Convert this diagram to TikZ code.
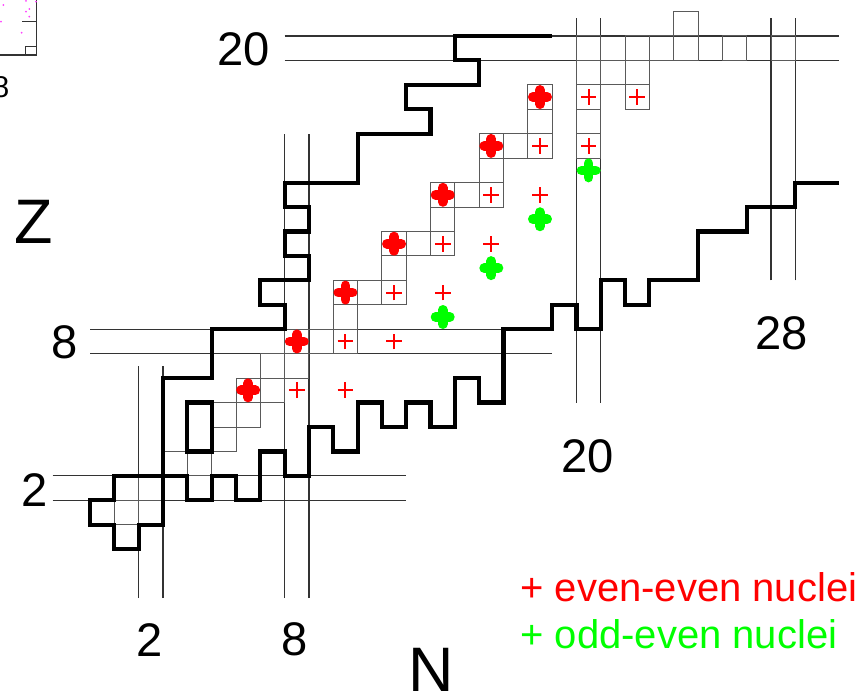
\documentclass[tikz,border=0pt]{standalone}
\usepackage{fontspec}
\setmainfont{Liberation Sans}
\usepackage{tikz}
\definecolor{EvenRed}{HTML}{FF0000}
\definecolor{OddGreen}{HTML}{00FF00}
\definecolor{LineGray}{HTML}{333333}
\definecolor{CellGray}{HTML}{5A5A5A}
\definecolor{DotMagenta}{HTML}{FF40FF}

\begin{document}
\begin{tikzpicture}[x=17.024pt, y=17.108pt,
  every node/.style={inner sep=0pt},
  magic/.style={draw=LineGray, line width=0.85pt},
  stable/.style={draw=CellGray, line width=0.65pt},
  drip/.style={draw=black, line width=2.9pt, line join=miter},
  hole/.style={draw=black, line width=2.9pt},
  ee/.style={minimum size=13pt, path picture={
      \draw[EvenRed, line width=1.4pt]
        ([xshift=-5.5pt]path picture bounding box.center) -- ([xshift=5.5pt]path picture bounding box.center)
        ([yshift=-5.5pt]path picture bounding box.center) -- ([yshift=5.5pt]path picture bounding box.center);}},
  bigplus/.style={minimum size=20pt, path picture={
      \draw[#1, line width=6.8pt, line cap=round]
        ([xshift=-5pt]path picture bounding box.center) -- ([xshift=5pt]path picture bounding box.center)
        ([yshift=-5pt]path picture bounding box.center) -- ([yshift=5pt]path picture bounding box.center);}},
  eemagic/.style={bigplus=EvenRed},
  oe/.style={bigplus=OddGreen},
  num/.style={font=\fontsize{33}{33}\selectfont},
  axis/.style={font=\fontsize{44}{44}\selectfont},
  lgd/.style={anchor=west, font=\fontsize{28}{28}\selectfont}]

  \useasboundingbox (-3.703,-6.007) rectangle (31.659,22.471);

  % ===== corner of the neighbouring panel (cut by the frame) =====
  \draw[LineGray, line width=0.8pt] (-3.8,20.221) -- (-2.194,20.221) -- (-2.194,22.6)
        (-2.786,21.583) -- (-2.194,21.583);
  \draw[LineGray, line width=0.6pt] (-2.646,20.221) rectangle (-2.194,20.561);
  \fill[DotMagenta] (-3.567,22.266) circle (0.7pt) (-2.634,22.430) circle (0.7pt)
        (-2.498,22.103) circle (0.7pt) (-2.634,21.992) circle (0.7pt)
        (-2.498,21.788) circle (0.7pt) (-3.662,21.583) circle (0.7pt)
        (-2.811,21.133) circle (0.7pt) (-2.223,22.401) circle (0.7pt);
  \node[anchor=east, font=\fontsize{21}{21}\selectfont] (frag) at (-3.312,18.891) {8};

  % ===== magic numbers (double lines) =====
  \draw[magic] (-1.54,2) -- (13,2)  (-1.54,3) -- (13,3);
  \draw[magic] (0,8) -- (19,8)      (0,9) -- (19,9);
  \draw[magic] (8,20) -- (30.8,20)  (8,21) -- (30.8,21);
  \draw[magic] (2,-2) -- (2,7.5)    (3,-2) -- (3,7.5);
  \draw[magic] (8,-2) -- (8,17)     (9,-2) -- (9,17);
  \draw[magic] (20,6) -- (20,21.75) (21,6) -- (21,21.75);
  \draw[magic] (28,11) -- (28,21.75) (29,11) -- (29,21.75);

  % ===== stable nuclei (thin cells) =====
  \draw[stable] (0,1) rectangle ++(1,1)  (1,1) rectangle ++(1,1)  (1,2) rectangle ++(1,1)
        (2,2) rectangle ++(1,1)  (3,3) rectangle ++(1,1)  (4,3) rectangle ++(1,1)
        (5,4) rectangle ++(1,1)  (5,5) rectangle ++(1,1)  (6,5) rectangle ++(1,1)
        (6,6) rectangle ++(1,1)  (7,6) rectangle ++(1,1)  (7,7) rectangle ++(1,1)
        (8,7) rectangle ++(1,1)  (8,8) rectangle ++(1,1)  (9,8) rectangle ++(1,1)
        (10,8) rectangle ++(1,1) (10,9) rectangle ++(1,1) (10,10) rectangle ++(1,1)
        (11,10) rectangle ++(1,1) (12,10) rectangle ++(1,1) (12,11) rectangle ++(1,1)
        (12,12) rectangle ++(1,1) (13,12) rectangle ++(1,1) (14,12) rectangle ++(1,1)
        (14,13) rectangle ++(1,1) (14,14) rectangle ++(1,1) (15,14) rectangle ++(1,1)
        (16,14) rectangle ++(1,1) (16,15) rectangle ++(1,1) (16,16) rectangle ++(1,1)
        (17,16) rectangle ++(1,1) (18,16) rectangle ++(1,1) (20,16) rectangle ++(1,1)
        (18,17) rectangle ++(1,1) (20,17) rectangle ++(1,1) (18,18) rectangle ++(1,1)
        (20,18) rectangle ++(1,1) (22,18) rectangle ++(1,1) (20,19) rectangle ++(1,1)
        (21,19) rectangle ++(1,1) (22,19) rectangle ++(1,1) (20,20) rectangle ++(1,1)
        (22,20) rectangle ++(1,1) (23,20) rectangle ++(1,1) (24,20) rectangle ++(1,1)
        (26,20) rectangle ++(1,1) (28,20) rectangle ++(1,1) (24,21) rectangle ++(1,1);

  % ===== limits of bound nuclei (thick) =====
  \draw[drip] (19,21) -- (15,21) -- (15,20) -- (16,20) -- (16,19) -- (13,19) -- (13,18)
        -- (14,18) -- (14,17) -- (11,17) -- (11,15) -- (8,15) -- (8,14) -- (9,14)
        -- (9,13) -- (8,13) -- (8,12) -- (9,12) -- (9,11) -- (7,11) -- (7,10) -- (8,10)
        -- (8,9) -- (5,9) -- (5,7) -- (3,7) -- (3,3) -- (1,3) -- (1,2) -- (0,2) -- (0,1)
        -- (1,1) -- (1,0) -- (2,0) -- (2,1) -- (3,1) -- (3,3) -- (4,3) -- (4,2) -- (5,2)
        -- (5,3) -- (6,3) -- (6,2) -- (7,2) -- (7,4) -- (8,4) -- (8,3) -- (9,3) -- (9,5)
        -- (10,5) -- (10,4) -- (11,4) -- (11,6) -- (12,6) -- (12,5) -- (13,5) -- (13,6)
        -- (14,6) -- (14,5) -- (15,5) -- (15,7) -- (16,7) -- (16,6) -- (17,6) -- (17,9)
        -- (19,9) -- (19,10) -- (20,10) -- (20,9) -- (21,9) -- (21,11) -- (22,11)
        -- (22,10) -- (23,10) -- (23,11) -- (25,11) -- (25,13) -- (27,13) -- (27,14)
        -- (29,14) -- (29,15) -- (30.8,15);
  \draw[hole] (4,4) rectangle (5,6);

  % ===== even-even nuclei, N = Z =====
  \node[eemagic] (c12)  at (6.5,6.5)   {};
  \node[eemagic] (o16)  at (8.5,8.5)   {};
  \node[eemagic] (ne20) at (10.5,10.5) {};
  \node[eemagic] (mg24) at (12.5,12.5) {};
  \node[eemagic] (si28) at (14.5,14.5) {};
  \node[eemagic] (s32)  at (16.5,16.5) {};
  \node[eemagic] (ar36) at (18.5,18.5) {};

  % ===== even-even nuclei, N > Z =====
  \node[ee] (c14)  at (8.5,6.5)   {};
  \node[ee] (c16)  at (10.5,6.5)  {};
  \node[ee] (o18)  at (10.5,8.5)  {};
  \node[ee] (o20)  at (12.5,8.5)  {};
  \node[ee] (ne22) at (12.5,10.5) {};
  \node[ee] (ne24) at (14.5,10.5) {};
  \node[ee] (mg26) at (14.5,12.5) {};
  \node[ee] (mg28) at (16.5,12.5) {};
  \node[ee] (si30) at (16.5,14.5) {};
  \node[ee] (si32) at (18.5,14.5) {};
  \node[ee] (s34)  at (18.5,16.5) {};
  \node[ee] (s36)  at (20.5,16.5) {};
  \node[ee] (ar38) at (20.5,18.5) {};
  \node[ee] (ar40) at (22.5,18.5) {};

  % ===== odd-even nuclei =====
  \node[oe] (f23)  at (14.5,9.5)  {};
  \node[oe] (na27) at (16.5,11.5) {};
  \node[oe] (al31) at (18.5,13.5) {};
  \node[oe] (p35)  at (20.5,15.5) {};

  % ===== magic numbers and axes =====
  \node[num] (z20) at (6.31,20.47)  {20};
  \node[num] (z8)  at (-1.03,8.48)  {8};
  \node[num] (z2)  at (-2.26,2.42)  {2};
  \node[num] (n2)  at (2.44,-3.70)  {2};
  \node[num] (n8)  at (8.43,-3.70)  {8};
  \node[num] (n20) at (20.47,3.81)  {20};
  \node[num] (n28) at (28.45,8.85)  {28};
  \node[axis] (zlab) at (-2.31,13.39) {Z};
  \node[axis] (nlab) at (14.02,-4.95) {N};

  % ===== legend =====
  \node[lgd, text=EvenRed]  (leg1) at (17.68,-1.57) {+ even-even nuclei};
  \node[lgd, text=OddGreen] (leg2) at (17.68,-3.47) {+ odd-even nuclei};

\end{tikzpicture}
\end{document}
